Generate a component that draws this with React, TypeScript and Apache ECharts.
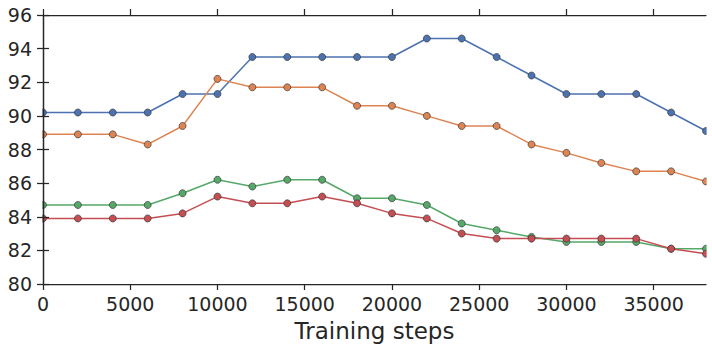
import React, { useEffect, useRef } from "react";
import * as echarts from "echarts";

const steps = [0, 2000, 4000, 6000, 8000, 10000, 12000, 14000, 16000, 18000, 20000, 22000, 24000, 26000, 28000, 30000, 32000, 34000, 36000, 38000];
const blue = [90.2, 90.2, 90.2, 90.2, 91.3, 91.3, 93.5, 93.5, 93.5, 93.5, 93.5, 94.6, 94.6, 93.5, 92.4, 91.3, 91.3, 91.3, 90.2, 89.1];
const orange = [88.9, 88.9, 88.9, 88.3, 89.4, 92.2, 91.7, 91.7, 91.7, 90.6, 90.6, 90.0, 89.4, 89.4, 88.3, 87.8, 87.2, 86.7, 86.7, 86.1];
const green = [84.7, 84.7, 84.7, 84.7, 85.4, 86.2, 85.8, 86.2, 86.2, 85.1, 85.1, 84.7, 83.6, 83.2, 82.8, 82.5, 82.5, 82.5, 82.1, 82.1];
const red = [83.9, 83.9, 83.9, 83.9, 84.2, 85.2, 84.8, 84.8, 85.2, 84.8, 84.2, 83.9, 83.0, 82.7, 82.7, 82.7, 82.7, 82.7, 82.1, 81.8];
const xTicks = [0, 5000, 10000, 15000, 20000, 25000, 30000, 35000];
const xLabel = "Training steps";

const seriesList = [
  { data: blue, color: "#4C72B0" },
  { data: orange, color: "#DD8452" },
  { data: green, color: "#55A868" },
  { data: red, color: "#C44E52" },
];

const ink = "#262626";
const font = "DejaVu Sans";
const G = { left: 43, right: 6, top: 15, bottom: 66 };
const W = 712;
const H = 350;

export default function App() {
  const ref = useRef<HTMLDivElement>(null);
  useEffect(() => {
    if (!ref.current) return;
    const chart = echarts.init(ref.current, null, { renderer: "svg" });
    const axisLine = { show: true, lineStyle: { color: ink, width: 1.25 } };
    const axisTick = { show: true, length: 6, inside: false, lineStyle: { color: ink, width: 1.25 } };
    const fmt = (v: number) => String(v);
    chart.setOption({
      animation: false,
      backgroundColor: "#ffffff",
      textStyle: { fontFamily: font },
      grid: { left: G.left, right: G.right, top: G.top, bottom: G.bottom },
      graphic: [
        { type: "rect", z: 5, silent: true, shape: { x: G.left - 6, y: G.top, width: 5.4, height: H - G.top - G.bottom }, style: { fill: "#ffffff" } },
        { type: "rect", z: 5, silent: true, shape: { x: W - G.right + 0.6, y: G.top, width: G.right, height: H - G.top - G.bottom }, style: { fill: "#ffffff" } },
      ],
      xAxis: [
        {
          type: "value",
          min: 0,
          max: 38000,
          interval: 5000,
          position: "bottom",
          z: 10,
          axisLine,
          axisTick: { ...axisTick, customValues: xTicks },
          axisLabel: { customValues: xTicks, formatter: fmt, color: ink, fontSize: 19, fontFamily: font, margin: 10 },
          splitLine: { show: false },
          name: xLabel,
          nameLocation: "middle",
          nameGap: 35,
          nameTextStyle: { color: ink, fontSize: 23, fontFamily: font },
        },
        {
          type: "value",
          min: 0,
          max: 38000,
          interval: 5000,
          position: "top",
          z: 10,
          axisLine,
          axisTick: { ...axisTick, customValues: xTicks },
          axisLabel: { show: false },
          splitLine: { show: false },
        },
      ],
      yAxis: [
        {
          type: "value",
          min: 80,
          max: 96,
          interval: 2,
          position: "left",
          z: 10,
          axisLine,
          axisTick,
          axisLabel: { formatter: fmt, color: ink, fontSize: 19, fontFamily: font, margin: 11 },
          splitLine: { show: false },
        },
        {
          type: "value",
          min: 80,
          max: 96,
          interval: 2,
          position: "right",
          z: 10,
          axisLine,
          axisTick,
          axisLabel: { show: false },
          splitLine: { show: false },
        },
      ],
      series: seriesList.map((s) => ({
        type: "line",
        data: steps.map((x, i) => [x, s.data[i]]),
        xAxisIndex: 0,
        yAxisIndex: 0,
        symbol: "circle",
        symbolSize: 7,
        showSymbol: true,
        clip: false,
        z: 2,
        lineStyle: { color: s.color, width: 1.5 },
        itemStyle: { color: s.color, borderColor: "#3a3a3a", borderWidth: 0.7 },
        emphasis: { disabled: true },
      })),
    });
    return () => chart.dispose();
  }, []);
  return <div ref={ref} style={{ width: W, height: H, position: "absolute", left: 0, top: 0 }} />;
}
